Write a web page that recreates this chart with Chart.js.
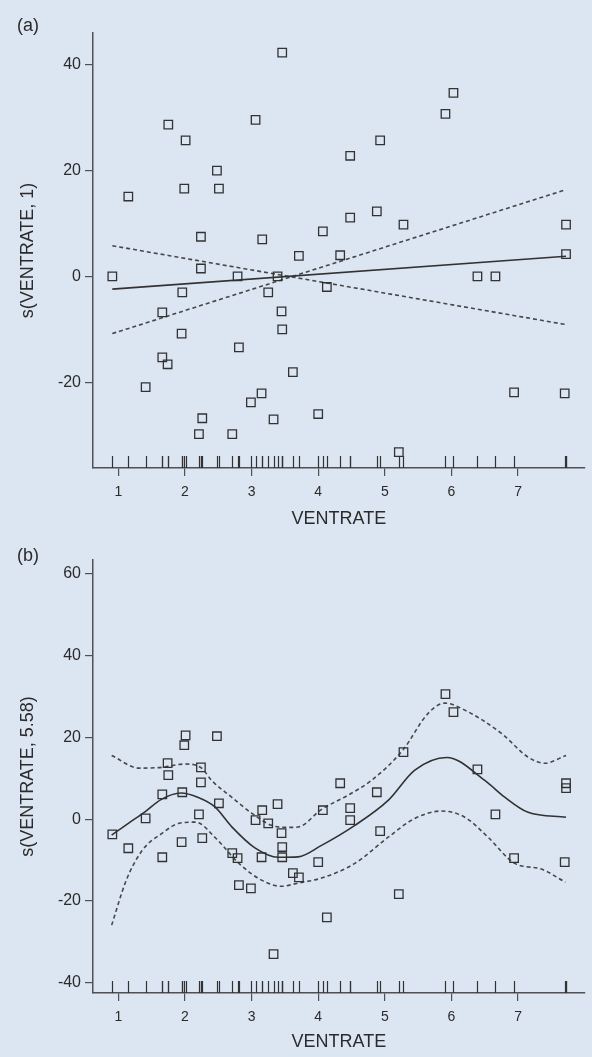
<!DOCTYPE html>
<html>
<head>
    <meta charset="UTF-8">
    <title>s(VENTRATE) partial plots</title>
    <script src="https://cdn.jsdelivr.net/npm/chart.js"></script>
    <style>
        body { margin: 0; background: #dce5f2; font-family: "Liberation Sans", Arial, sans-serif; }
        #wrap { position: relative; width: 592px; height: 1057px; }
        canvas { position: absolute; left: 0; }
        .tag { position: absolute; left: 17px; font-size: 18px; color: #2b2b2b; }
    </style>
</head>
<body>
<div id="wrap">
    <canvas id="chartA" width="592" height="530" style="top:0"></canvas>
    <canvas id="chartB" width="592" height="527" style="top:530px"></canvas>
    <div class="tag" style="top:15px">(a)</div>
    <div class="tag" style="top:545px">(b)</div>
</div>

<script>
    // VENTRATE values (also drawn as the rug on the x axis)
    var ventrate = [0.91, 1.15, 1.41, 1.66, 1.66, 1.74, 1.75, 1.95, 1.96, 1.99,
                    2.01, 2.21, 2.24, 2.24, 2.26, 2.48, 2.51, 2.71, 2.79, 2.81,
                    2.99, 3.06, 3.15, 3.16, 3.25, 3.33, 3.39, 3.45, 3.46, 3.46,
                    3.62, 3.71, 4.00, 4.07, 4.13, 4.33, 4.48, 4.48, 4.88, 4.93,
                    5.21, 5.28, 5.91, 6.03, 6.39, 6.66, 6.94, 7.70, 7.72, 7.72];

    // partial residuals, panel (a): linear term
    var residA = [0, 15.1, -20.9, -6.8, -15.3, -16.6, 28.7, -10.8, -3.0, 16.6,
                  25.7, -29.8, 7.5, 1.5, -26.8, 20.0, 16.6, -29.8, 0, -13.4,
                  -23.8, 29.6, -22.1, 7.0, -3.0, -27.0, 0, -6.6, -10.0, 42.3,
                  -18.1, 3.9, -26.0, 8.5, -2.0, 4.0, 22.8, 11.1, 12.3, 25.7,
                  -33.2, 9.8, 30.7, 34.7, 0, 0, -21.9, -22.1, 9.8, 4.2];

    // partial residuals, panel (b): smooth term, edf 5.58
    var residB = [-3.7, -7.1, 0.2, 6.1, -9.3, 13.7, 10.8, -5.6, 6.6, 18.1,
                  20.5, 1.2, 12.7, 9.0, -4.6, 20.3, 3.9, -8.3, -9.5, -16.1,
                  -16.9, -0.2, -9.3, 2.2, -1.0, -33.0, 3.7, -3.4, -6.8, -9.3,
                  -13.2, -14.2, -10.5, 2.2, -24.0, 8.8, 2.7, -0.2, 6.6, -2.9,
                  -18.3, 16.4, 30.6, 26.2, 12.2, 1.2, -9.5, -10.5, 8.8, 7.6];

    // panel (a) fitted line and the two band lines
    var fitAx = [0.91, 7.72];
    var fitAy = [-2.4, 3.8];
    var bandA1y = [5.8, -9.1];
    var bandA2y = [-10.8, 16.4];

    // panel (b) smooth and its band
    var fitBx = [0.9, 1.15, 1.4, 1.64, 1.94, 2.2, 2.45, 2.7, 3.05, 3.4, 3.7, 4.05, 4.55, 5.05, 5.45, 5.93, 6.5, 6.8, 7.15, 7.72];
    var fitBy = [-3.9, -1.0, 1.8, 4.8, 6.4, 5.3, 3.0, -1.8, -7.0, -9.3, -9.2, -6.4, -1.5, 4.6, 12.0, 15.1, 9.5, 5.4, 1.7, 0.5];
    var upBx = [0.9, 1.31, 1.66, 2.0, 2.25, 2.4, 2.7, 3.0, 3.3, 3.55, 3.7, 4.05, 4.45, 4.8, 5.27, 5.65, 5.9, 6.15, 6.75, 7.15, 7.4, 7.72];
    var upBy = [15.6, 12.5, 12.7, 13.5, 12.5, 9.5, 5.4, 1.5, -1.5, -2.0, -1.9, 2.4, 5.9, 9.5, 16.9, 25.9, 28.4, 27.1, 21.0, 15.2, 13.7, 15.6];
    var loBx = [0.9, 1.12, 1.36, 1.66, 1.91, 2.16, 2.46, 2.81, 3.15, 3.45, 3.7, 4.05, 4.55, 5.05, 5.45, 5.85, 6.2, 6.55, 6.95, 7.35, 7.71];
    var loBy = [-25.9, -14.9, -7.6, -3.4, -1.0, -0.7, -4.6, -10.8, -14.9, -16.4, -15.6, -14.4, -10.8, -4.4, 0.2, 2.0, 0.5, -4.4, -10.8, -12.2, -15.4];

    // axis ticks
    var xTicks = [1, 2, 3, 4, 5, 6, 7];
    var yTicksA = [-20, 0, 20, 40];
    var yTicksB = [-40, -20, 0, 20, 40, 60];

    var ink = '#323232';
    var textInk = '#2b2b2b';

    function pairs(xs, ys) {
        return xs.map(function (x, i) { return {x: x, y: ys[i]}; });
    }

    // rug of VENTRATE values on top of the x axis
    var rugPlugin = {
        id: 'rug',
        afterDatasetsDraw: function (chart) {
            var ctx = chart.ctx;
            var xs = chart.scales.x;
            var bottom = chart.chartArea.bottom;
            ctx.save();
            ctx.strokeStyle = ink;
            ctx.lineWidth = 1.2;
            ventrate.forEach(function (v) {
                var px = Math.round(xs.getPixelForValue(v)) + 0.5;
                ctx.beginPath();
                ctx.moveTo(px, bottom);
                ctx.lineTo(px, bottom - 12);
                ctx.stroke();
            });
            ctx.restore();
        }
    };

    function lineSet(data, dashed) {
        return {
            data: data,
            showLine: true,
            pointRadius: 0,
            borderColor: dashed ? '#474747' : ink,
            borderWidth: dashed ? 1.6 : 1.6,
            borderDash: dashed ? [4, 3] : [],
            cubicInterpolationMode: 'monotone',
            fill: false
        };
    }

    function makeChart(id, cfg) {
        var ctx = document.getElementById(id).getContext('2d');
        return new Chart(ctx, {
            type: 'scatter',
            data: {
                datasets: [{
                    data: pairs(ventrate, cfg.resid),
                    pointStyle: 'rect',
                    pointRadius: 6,
                    borderColor: ink,
                    borderWidth: 1.3,
                    backgroundColor: 'rgba(0,0,0,0)'
                }].concat(cfg.lines)
            },
            options: {
                responsive: false,
                animation: false,
                layout: { padding: { top: cfg.top, right: 5, left: 0, bottom: 0 } },
                plugins: { legend: { display: false }, tooltip: { enabled: false } },
                scales: {
                    x: {
                        type: 'linear',
                        min: 0.62,
                        max: 8.0,
                        afterBuildTicks: function (scale) {
                            scale.ticks = xTicks.map(function (v) { return {value: v}; });
                        },
                        afterFit: function (scale) { scale.height = cfg.xh; },
                        border: { display: true, color: '#505050', width: 1.5 },
                        grid: { drawOnChartArea: false, drawTicks: true, tickLength: 8, color: '#505050', lineWidth: 1.2 },
                        ticks: { color: textInk, font: { size: 14, family: 'Liberation Sans' }, padding: 8, maxRotation: 0 },
                        title: {
                            display: true, text: 'VENTRATE', color: textInk,
                            font: { size: 18, family: 'Liberation Sans' },
                            padding: { top: 0, bottom: cfg.titlePad }
                        }
                    },
                    y: {
                        type: 'linear',
                        min: cfg.ymin,
                        max: cfg.ymax,
                        afterBuildTicks: function (scale) {
                            scale.ticks = cfg.yTicks.map(function (v) { return {value: v}; });
                        },
                        afterFit: function (scale) { scale.width = 93; },
                        border: { display: true, color: '#505050', width: 1.5 },
                        grid: { drawOnChartArea: false, drawTicks: true, tickLength: 8, color: '#505050', lineWidth: 1.2 },
                        ticks: { color: textInk, font: { size: 16, family: 'Liberation Sans' }, padding: 4 },
                        title: {
                            display: true, text: cfg.ytitle, color: textInk,
                            font: { size: 18, family: 'Liberation Sans' },
                            padding: { top: 17, bottom: 0 }
                        }
                    }
                }
            },
            plugins: [rugPlugin]
        });
    }

    makeChart('chartA', {
        resid: residA,
        lines: [lineSet(pairs(fitAx, fitAy), false),
                lineSet(pairs(fitAx, bandA1y), true),
                lineSet(pairs(fitAx, bandA2y), true)],
        top: 33, xh: 62, titlePad: 0,
        ymin: -36.2, ymax: 46.0, yTicks: yTicksA,
        ytitle: 's(VENTRATE, 1)'
    });

    makeChart('chartB', {
        resid: residB,
        lines: [lineSet(pairs(fitBx, fitBy), false),
                lineSet(pairs(upBx, upBy), true),
                lineSet(pairs(loBx, loBy), true)],
        top: 30, xh: 64, titlePad: 4,
        ymin: -42.5, ymax: 63.4, yTicks: yTicksB,
        ytitle: 's(VENTRATE, 5.58)'
    });
</script>
</body>
</html>
